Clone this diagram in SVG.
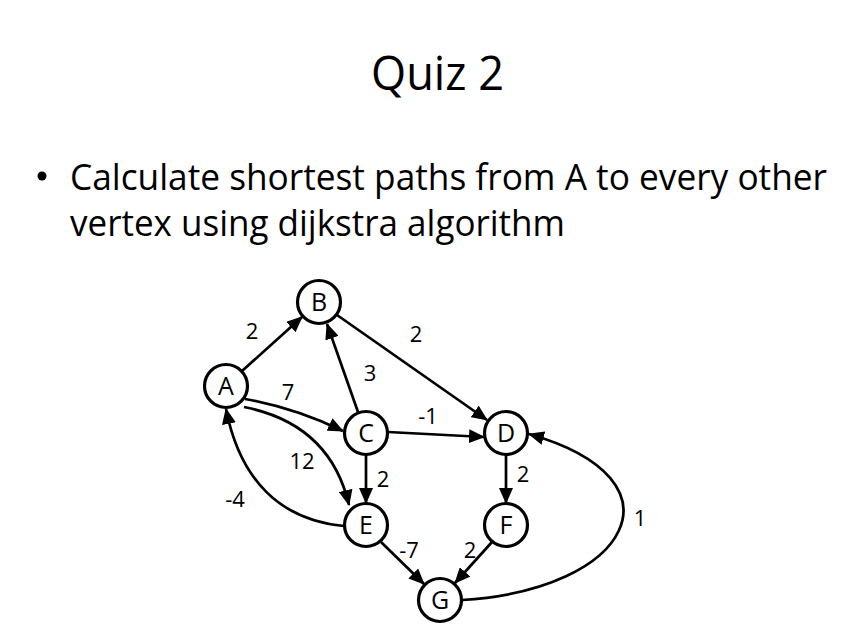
<svg xmlns="http://www.w3.org/2000/svg" width="861" height="633" viewBox="0 0 861 633">
  <style>
    text { font-family: "Open Sans", "Noto Sans", "Liberation Sans", sans-serif; fill: #000; }
    .title { font-size: 48px; }
    .body { font-size: 36px; }
    .node circle { fill: #fff; stroke: #000; stroke-width: 3.2; }
    .node text { font-size: 25px; text-anchor: middle; }
    .edge { fill: none; stroke: #000; stroke-width: 2.7; marker-end: url(#arrow); }
    .lbl { font-size: 22px; text-anchor: middle; }
  </style>
  <defs>
    <marker id="arrow" markerUnits="userSpaceOnUse" markerWidth="16" markerHeight="14" viewBox="0 0 16 14" refX="15" refY="7" orient="auto">
      <path d="M0,0 L16,7 L0,14 Z" fill="#000"/>
    </marker>
  </defs>

  <rect width="861" height="633" fill="#fff"/>

  <!-- heading and bullet text -->
  <text class="title" x="371" y="90" textLength="133" lengthAdjust="spacingAndGlyphs">Quiz 2</text>
  <circle cx="42" cy="176" r="4.5" fill="#000"/>
  <text class="body" x="70" y="190" textLength="757" lengthAdjust="spacingAndGlyphs">Calculate shortest paths from A to every other</text>
  <text class="body" x="70" y="236" textLength="495" lengthAdjust="spacingAndGlyphs">vertex using dijkstra algorithm</text>

  <!-- directed weighted edges -->
  <g id="edges">
    <path class="edge" d="M242,371 L302,317"/>
    <path class="edge" d="M337,315 L487,420"/>
    <path class="edge" d="M358,412 L327,324"/>
    <path class="edge" d="M245,399 Q295,408 343,431"/>
    <path class="edge" d="M244,407 Q330,424 349,505"/>
    <path class="edge" d="M344,526 C280,520 240,480 226,409"/>
    <path class="edge" d="M388,432 L484,437"/>
    <path class="edge" d="M366,455 L366,503"/>
    <path class="edge" d="M506,455 L506,503"/>
    <path class="edge" d="M381,542 L424,584"/>
    <path class="edge" d="M492,542 L455,583"/>
    <path class="edge" d="M462,600 C630,590 690,480 529,434"/>

    <text class="lbl" x="252" y="339">2</text>
    <text class="lbl" x="416" y="342">2</text>
    <text class="lbl" x="370" y="381">3</text>
    <text class="lbl" x="288" y="400">7</text>
    <text class="lbl" x="428" y="424">-1</text>
    <text class="lbl" x="383" y="487">2</text>
    <text class="lbl" x="523" y="482">2</text>
    <text class="lbl" x="302" y="469">12</text>
    <text class="lbl" x="235" y="507">-4</text>
    <text class="lbl" x="409" y="558">-7</text>
    <text class="lbl" x="470" y="558">2</text>
    <text class="lbl" x="640" y="526">1</text>
  </g>

  <!-- vertices -->
  <g id="node-A" class="node"><circle cx="226" cy="386" r="21.5"/><text x="226" y="395">A</text></g>
  <g id="node-B" class="node"><circle cx="319" cy="302" r="21.5"/><text x="319" y="311">B</text></g>
  <g id="node-C" class="node"><circle cx="366" cy="433" r="21.5"/><text x="366" y="442">C</text></g>
  <g id="node-D" class="node"><circle cx="506" cy="433" r="21.5"/><text x="506" y="442">D</text></g>
  <g id="node-E" class="node"><circle cx="366" cy="525" r="21.5"/><text x="366" y="534">E</text></g>
  <g id="node-F" class="node"><circle cx="506" cy="525" r="21.5"/><text x="506" y="534">F</text></g>
  <g id="node-G" class="node"><circle cx="440" cy="600" r="21.5"/><text x="440" y="609">G</text></g>
</svg>
